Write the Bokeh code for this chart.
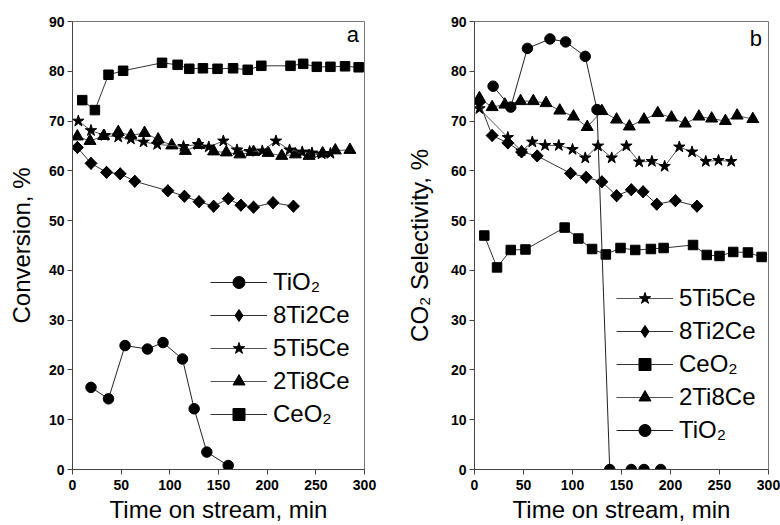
import math
from bokeh.plotting import figure
from bokeh.layouts import row
from bokeh.models import Legend, LegendItem, Label, Range1d
from bokeh.embed import file_html
from bokeh.resources import INLINE

# ---------------- Panel a: Conversion ----------------
a_tio2_t = [19, 37, 54, 77, 93, 113, 125, 138, 160]
a_tio2_v = [16.5, 14.2, 24.9, 24.2, 25.5, 22.2, 12.2, 3.5, 0.8]

a_8ti2ce_t = [5, 19, 35, 49, 64, 98, 115, 130, 145, 160, 173, 186, 206, 227]
a_8ti2ce_v = [64.7, 61.5, 59.7, 59.4, 57.9, 56.0, 54.9, 53.8, 52.9, 54.4, 53.1, 52.7, 53.6, 52.9]

a_5ti5ce_t = [6, 19, 33, 47, 60, 73, 87, 114, 129, 140, 155, 169, 182, 195, 209, 223, 236, 246, 256, 265]
a_5ti5ce_v = [70.0, 68.1, 67.1, 66.8, 66.4, 65.8, 65.3, 64.9, 65.3, 64.8, 66.0, 64.2, 63.9, 64.0, 66.0, 64.2, 63.8, 63.6, 63.4, 63.5]

a_2ti8ce_t = [5, 18, 32, 47, 60, 74, 88, 102, 116, 130, 145, 158, 172, 186, 201, 215, 229, 243, 257, 270, 285]
a_2ti8ce_v = [66.9, 66.0, 67.0, 67.8, 67.1, 67.6, 66.3, 65.1, 64.0, 65.2, 63.9, 63.7, 63.3, 63.8, 63.6, 63.0, 63.3, 63.0, 63.5, 64.1, 64.2]

a_ceo2_t = [10, 23, 37, 52, 92, 108, 120, 134, 149, 165, 180, 194, 224, 237, 251, 265, 280, 294]
a_ceo2_v = [74.2, 72.2, 79.3, 80.1, 81.7, 81.3, 80.5, 80.6, 80.5, 80.6, 80.3, 81.1, 81.1, 81.5, 80.9, 80.9, 81.0, 80.8]

# ---------------- Panel b: CO2 selectivity ----------------
b_tio2_t = [19, 37, 54, 77, 93, 113, 125, 138, 160, 173, 190]
b_tio2_v = [77.0, 72.8, 84.6, 86.5, 85.9, 83.0, 72.3, 0, 0, 0, 0]

b_2ti8ce_t = [5, 18, 31, 47, 60, 73, 87, 101, 115, 130, 145, 158, 173, 187, 201, 215, 229, 242, 256, 268, 284]
b_2ti8ce_v = [74.6, 72.8, 73.3, 74.0, 74.0, 73.6, 72.1, 70.9, 68.8, 72.0, 70.3, 68.9, 70.3, 71.6, 70.7, 69.5, 70.9, 70.5, 70.0, 71.1, 70.4]

b_5ti5ce_t = [5, 34, 48, 59, 72, 86, 100, 113, 126, 140, 155, 168, 181, 194, 209, 222, 236, 249, 262]
b_5ti5ce_v = [72.5, 66.7, 64.0, 65.8, 65.1, 65.1, 64.3, 62.6, 65.0, 62.6, 65.0, 61.8, 61.9, 60.9, 64.8, 63.8, 61.9, 62.1, 61.9]

b_8ti2ce_t = [5, 18, 34, 48, 64, 98, 114, 130, 145, 160, 172, 186, 205, 227]
b_8ti2ce_v = [73.8, 67.1, 65.6, 63.8, 63.0, 59.5, 58.7, 57.8, 55.0, 56.2, 55.8, 53.3, 54.0, 52.9]

b_ceo2_t = [10, 23, 37, 52, 92, 106, 120, 134, 149, 164, 180, 193, 223, 237, 250, 264, 279, 293]
b_ceo2_v = [47.0, 40.6, 44.1, 44.2, 48.6, 46.4, 44.3, 43.2, 44.5, 44.1, 44.3, 44.5, 45.1, 43.1, 42.9, 43.7, 43.6, 42.7]

x_ticks = [0, 50, 100, 150, 200, 250, 300]
y_ticks = [0, 10, 20, 30, 40, 50, 60, 70, 80, 90]

FONT = "Liberation Sans"

MARKERS = {
    "TiO₂": dict(marker="circle", size=10.5),
    "8Ti2Ce": dict(marker="diamond", size=12),
    "5Ti5Ce": dict(marker="star", size=12),
    "2Ti8Ce": dict(marker="triangle", size=12),
    "CeO₂": dict(marker="square", size=9.5),
}


def make_fig(width, border_left, border_right, ylabel, title_standoff):
    p = figure(width=width, height=525, output_backend="svg", toolbar_location=None,
               x_range=Range1d(0, 300), y_range=Range1d(0, 90),
               min_border_left=border_left, min_border_right=border_right,
               min_border_top=21, min_border_bottom=55)
    p.grid.visible = False
    p.outline_line_color = "#777777"
    p.outline_line_width = 1
    p.background_fill_color = "white"
    p.border_fill_color = "white"
    for ax in (p.xaxis[0], p.yaxis[0]):
        ax.axis_line_color = "#444444"
        ax.major_tick_line_color = "#444444"
        ax.minor_tick_line_color = "#444444"
        ax.major_tick_in = 0
        ax.major_tick_out = 5
        ax.minor_tick_in = 0
        ax.minor_tick_out = 3
        ax.major_label_text_font = FONT
        ax.major_label_text_font_style = "bold"
        ax.major_label_text_font_size = "14px"
        ax.major_label_text_color = "black"
        ax.axis_label_text_font = FONT
        ax.axis_label_text_font_style = "normal"
        ax.axis_label_text_font_size = "24px"
        ax.axis_label_text_color = "black"
    p.xaxis.ticker = x_ticks
    p.yaxis.ticker = y_ticks
    p.xaxis[0].ticker.num_minor_ticks = 2
    p.yaxis[0].ticker.num_minor_ticks = 2
    p.xaxis.major_label_standoff = 5
    p.yaxis.major_label_standoff = 3
    p.xaxis.axis_label = "Time on stream, min"
    p.xaxis.axis_label_standoff = 3
    p.yaxis.axis_label = ylabel
    p.yaxis.axis_label_standoff = title_standoff
    return p


def add_series(p, name, t, v, line_color):
    m = MARKERS[name]
    ln = p.line(t, v, line_color=line_color, line_width=1)
    sc = p.scatter(t, v, marker=m["marker"], size=m["size"],
                   fill_color="black", line_color="black", line_width=1)
    if name == "8Ti2Ce":
        # the plotted diamonds are wider (a square turned by 45 degrees)
        p.scatter(t, v, marker="square", size=8.5, angle=math.pi / 4,
                  fill_color="black", line_color="black", line_width=1)
    return LegendItem(label=name, renderers=[ln, sc])


def style_legend(items, loc):
    lg = Legend(items=items, location=loc, orientation="vertical")
    lg.label_text_font = FONT
    lg.label_text_font_size = "24px"
    lg.label_text_color = "black"
    lg.label_height = 30
    lg.glyph_height = 30
    lg.glyph_width = 57
    lg.label_standoff = 6
    lg.spacing = 3
    lg.padding = 0
    lg.margin = 0
    lg.border_line_color = None
    lg.background_fill_alpha = 0
    return lg


# ---- left figure ----
pa = make_fig(390, 72, 26, "Conversion, %", 11)
it_a = {}
it_a["CeO₂"] = add_series(pa, "CeO₂", a_ceo2_t, a_ceo2_v, "#333333")
it_a["2Ti8Ce"] = add_series(pa, "2Ti8Ce", a_2ti8ce_t, a_2ti8ce_v, "#555555")
it_a["5Ti5Ce"] = add_series(pa, "5Ti5Ce", a_5ti5ce_t, a_5ti5ce_v, "#555555")
it_a["8Ti2Ce"] = add_series(pa, "8Ti2Ce", a_8ti2ce_t, a_8ti2ce_v, "#333333")
it_a["TiO₂"] = add_series(pa, "TiO₂", a_tio2_t, a_tio2_v, "#222222")
order_a = ["TiO₂", "8Ti2Ce", "5Ti5Ce", "2Ti8Ce", "CeO₂"]
pa.add_layout(style_legend([it_a[k] for k in order_a], (138, 40)))
pa.add_layout(Label(x=288, y=87.3, text="a", text_font=FONT, text_font_size="22px",
                    text_align="center", text_baseline="middle", text_color="black"))

# ---- right figure ----
pb = make_fig(390, 84, 12, "CO₂ Selectivity, %", 15)
it_b = {}
it_b["CeO₂"] = add_series(pb, "CeO₂", b_ceo2_t, b_ceo2_v, "#333333")
it_b["2Ti8Ce"] = add_series(pb, "2Ti8Ce", b_2ti8ce_t, b_2ti8ce_v, "#555555")
it_b["5Ti5Ce"] = add_series(pb, "5Ti5Ce", b_5ti5ce_t, b_5ti5ce_v, "#555555")
it_b["8Ti2Ce"] = add_series(pb, "8Ti2Ce", b_8ti2ce_t, b_8ti2ce_v, "#333333")
it_b["TiO₂"] = add_series(pb, "TiO₂", b_tio2_t, b_tio2_v, "#222222")
order_b = ["5Ti5Ce", "8Ti2Ce", "CeO₂", "2Ti8Ce", "TiO₂"]
pb.add_layout(style_legend([it_b[k] for k in order_b], (142, 24)))
pb.add_layout(Label(x=287, y=86.6, text="b", text_font=FONT, text_font_size="22px",
                    text_align="center", text_baseline="middle", text_color="black"))

layout = row(pa, pb, spacing=0)
open("out.html", "w").write(file_html(layout, INLINE))
